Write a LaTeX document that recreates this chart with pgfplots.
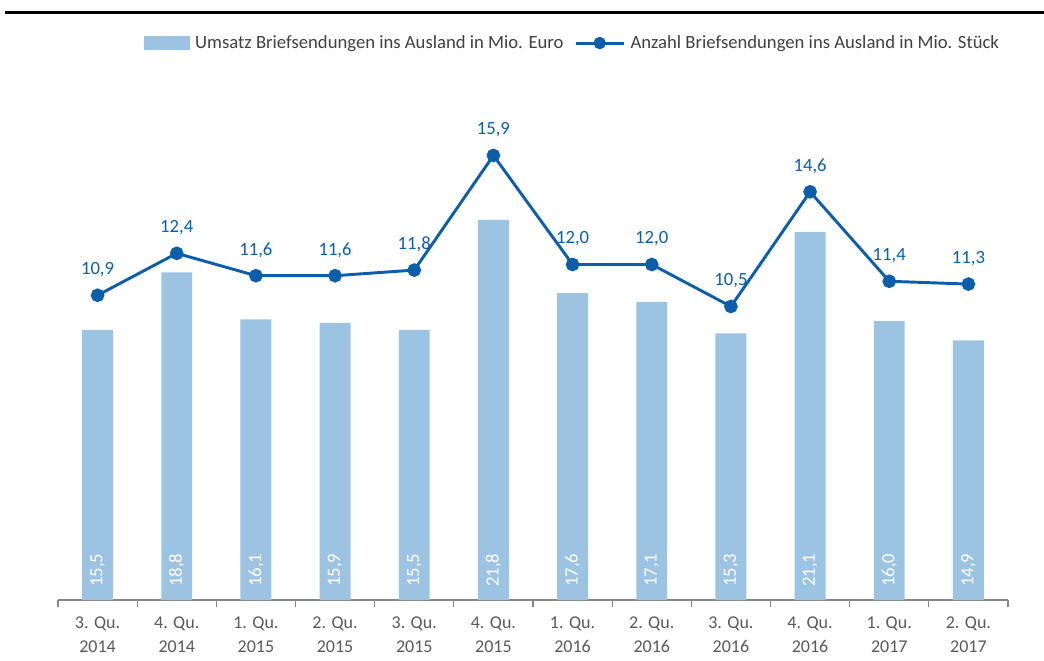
\documentclass[border=0pt]{standalone}
\usepackage{fontspec}
\setmainfont{Carlito}
\usepackage{pgfplots}
\pgfplotsset{compat=1.18}
\definecolor{barc}{RGB}{157,195,227}
\definecolor{linec}{RGB}{12,94,170}
\definecolor{axc}{RGB}{134,134,134}
\definecolor{txtc}{RGB}{89,89,89}
\definecolor{legc}{RGB}{64,64,64}

\pgfplotsset{
  base/.style={
    scale only axis, width=712.5pt, height=390pt,
    xmin=-0.5, xmax=11.5, ymin=0,
    /pgf/number format/.cd, fixed, fixed zerofill, precision=1, use comma,
    assume math mode=true,
  },
}

\begin{document}
\fontsize{13.5}{16}\selectfont
\begin{tikzpicture}
\useasboundingbox (-43.5pt,-45pt) rectangle (739.5pt,450pt);
\draw[black, line width=2.2pt] (-39.75pt,440.5pt) -- (739.5pt,440.5pt);

% bars: Umsatz in Mio. Euro
\begin{axis}[base, ymax=29.83,
  axis y line=none, axis x line*=bottom,
  x axis line style={axc, line width=0.8pt},
  xtick={0,...,11}, major tick length=0pt,
  xticklabels={{3. Qu.\\2014},{4. Qu.\\2014},{1. Qu.\\2015},{2. Qu.\\2015},
    {3. Qu.\\2015},{4. Qu.\\2015},{1. Qu.\\2016},{2. Qu.\\2016},
    {3. Qu.\\2016},{4. Qu.\\2016},{1. Qu.\\2017},{2. Qu.\\2017}},
  xticklabel style={align=center, text=txtc, yshift=-8pt,
    font=\fontsize{13.5}{18}\selectfont},
  minor xtick={-0.5,0.5,...,11.5}, minor tick length=5pt, tick align=outside,
  minor tick style={axc, line width=0.8pt},
]
\addplot[ybar, bar width=0.39, fill=barc, draw=none,
  nodes near coords, point meta=y,
  visualization depends on=rawy \as \rawy,
  every node near coord/.append style={shift={(axis direction cs:0,-\rawy+0.4)},
    rotate=90, anchor=west, text=white, font=\fontsize{14}{16}\selectfont},
] coordinates {
  (0,15.5) (1,18.8) (2,16.1) (3,15.9) (4,15.5) (5,21.8)
  (6,17.6) (7,17.1) (8,15.3) (9,21.1) (10,16.0) (11,14.9)
};
\end{axis}

% line: Anzahl in Mio. Stueck
\begin{axis}[base, ymax=18.6, hide axis,
  legend columns=2,
  legend style={at={(0.542,1.071)}, anchor=center, draw=none, fill=none,
    text=legc, font=\fontsize{14}{16}\selectfont,
    /tikz/every odd column/.append style={column sep=2pt},
    /tikz/every even column/.append style={column sep=6pt}},
]
\addlegendimage{legend image code/.code={\fill[barc] (0pt,-5pt) rectangle (34pt,5pt);}}
\addlegendentry{Umsatz Briefsendungen ins Ausland in Mio. Euro}
\addplot[linec, line width=2.2pt, mark=*, mark size=4pt,
  legend image code/.code={\draw[linec, line width=2.2pt] (0pt,0pt) -- (36pt,0pt);
    \fill[linec] (18pt,0pt) circle (3.5pt);},
  nodes near coords, point meta=y,
  every node near coord/.append style={anchor=south, yshift=8pt, text=linec,
    font=\fontsize{14}{16}\selectfont},
] coordinates {
  (0,10.9) (1,12.4) (2,11.6) (3,11.6) (4,11.8) (5,15.9)
  (6,12.0) (7,12.0) (8,10.5) (9,14.6) (10,11.4) (11,11.3)
};
\addlegendentry{Anzahl Briefsendungen ins Ausland in Mio. Stück}
\end{axis}
\end{tikzpicture}
\end{document}
